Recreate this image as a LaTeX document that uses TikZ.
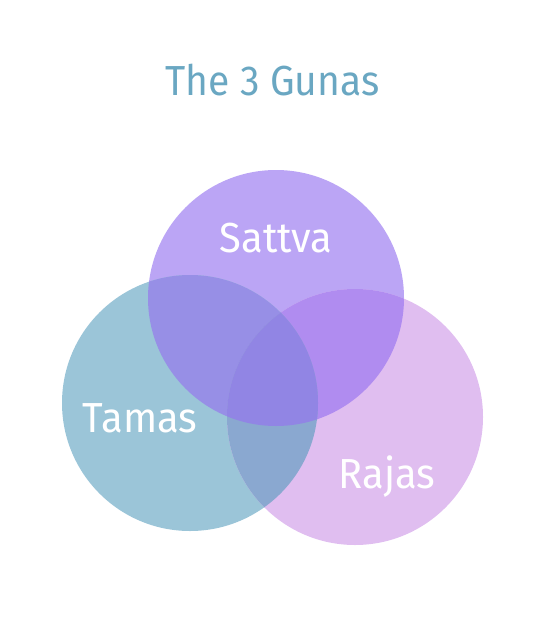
\documentclass[tikz,border=0pt]{standalone}
\usepackage{fontspec}
\setmainfont{Fira Sans}
\definecolor{titleC}{HTML}{6AA7C2}
\definecolor{satC}{HTML}{BBA5F5}
\definecolor{tamC}{HTML}{9BC5D8}
\definecolor{rajC}{HTML}{E0BEF0}
\definecolor{stC}{HTML}{978FE6}
\definecolor{srC}{HTML}{B08CF0}
\definecolor{trC}{HTML}{8AA8D0}
\definecolor{strC}{HTML}{9185E4}
\begin{document}
\begin{tikzpicture}[x=1pt,y=-1pt,
  lbl/.style={text=white,font=\fontsize{42}{42}\selectfont,anchor=base,xscale=0.95,transform shape},
  ttl/.style={text=titleC,font=\fontsize{42}{42}\selectfont,anchor=base,xscale=0.93,transform shape}]
\useasboundingbox (0,0) rectangle (544,626);
\def\R{128}
\coordinate (S) at (276,298);
\coordinate (T) at (190,403);
\coordinate (J) at (355,417);
\fill[satC] (S) circle (\R);
\fill[tamC] (T) circle (\R);
\fill[rajC] (J) circle (\R);
\begin{scope}
  \clip (S) circle (\R);
  \fill[stC] (T) circle (\R);
  \fill[srC] (J) circle (\R);
\end{scope}
\begin{scope}
  \clip (T) circle (\R);
  \fill[trC] (J) circle (\R);
\end{scope}
\begin{scope}
  \clip (S) circle (\R);
  \clip (T) circle (\R);
  \fill[strC] (J) circle (\R);
\end{scope}
\node[ttl] (title) at (272.5,95) {The 3 Gunas};
\node[lbl] (sattva) at (276,252) {Sattva};
\node[lbl] (tamas) at (140,432) {Tamas};
\node[lbl] (rajas) at (387,488) {Rajas};
\end{tikzpicture}
\end{document}
